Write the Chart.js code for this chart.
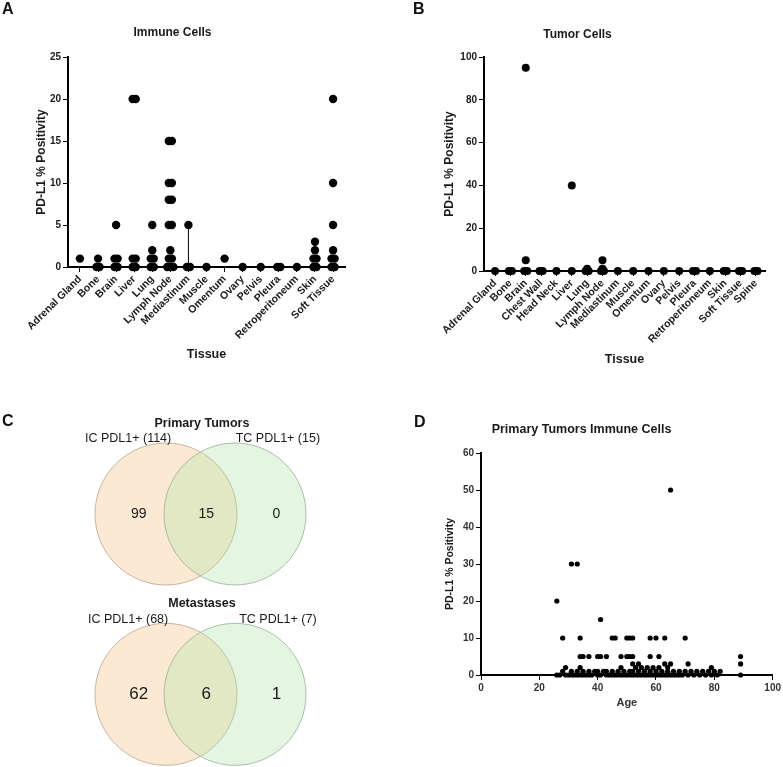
<!DOCTYPE html>
<html>
<head>
<meta charset="utf-8">
<script src="https://cdn.jsdelivr.net/npm/chart.js@4.4.1/dist/chart.umd.min.js"></script>
<style>
  body { margin: 0; background: #fff; }
  #page { position: relative; width: 783px; height: 767px; }
  canvas { position: absolute; }
  .letter { position: absolute; font: bold 16px 'Liberation Sans', Arial, sans-serif; line-height: 16px; color: #111; }
</style>
</head>
<body>
<div id="page">
  <canvas id="chartA" width="390" height="375" style="left:0;top:0"></canvas>
  <canvas id="chartB" width="393" height="375" style="left:390px;top:0"></canvas>
  <canvas id="chartC" width="390" height="387" style="left:0;top:380px"></canvas>
  <canvas id="chartD" width="393" height="387" style="left:390px;top:380px"></canvas>
  <div class="letter" style="left:2px;top:1px">A</div>
  <div class="letter" style="left:413px;top:1px">B</div>
  <div class="letter" style="left:2px;top:413px">C</div>
  <div class="letter" style="left:414px;top:414px">D</div>
</div>
<script>
// Panel A - immune cells, metastatic sites
const tissuesA = ["Adrenal Gland", "Bone", "Brain", "Liver", "Lung", "Lymph Node", "Mediastinum",
    "Muscle", "Omentum", "Ovary", "Pelvis", "Pleura", "Retroperitoneum", "Skin", "Soft Tissue"];
const immuneValues = [
    [1],
    [0, 0, 1],
    [0, 0, 1, 1, 5],
    [0, 0, 1, 1, 20, 20],
    [0, 0, 1, 1, 2, 5],
    [0, 0, 0, 1, 1, 2, 5, 5, 8, 8, 10, 10, 15, 15],
    [0, 0, 5],
    [0],
    [1],
    [0],
    [0],
    [0, 0],
    [0],
    [0, 0, 1, 1, 2, 3],
    [0, 0, 1, 1, 2, 5, 10, 20]
];

// Panel B - tumor cells, metastatic sites
const tissuesB = ["Adrenal Gland", "Bone", "Brain", "Chest Wall", "Head Neck", "Liver", "Lung",
    "Lymph Node", "Mediastinum", "Muscle", "Omentum", "Ovary", "Pelvis", "Pleura",
    "Retroperitoneum", "Skin", "Soft Tissue", "Spine"];
const tumorValues = [
    [0], [0, 0], [0, 0, 5, 95], [0, 0], [0], [0, 40], [0, 0, 1], [0, 0, 1, 5], [0],
    [0], [0], [0], [0], [0, 0], [0], [0, 0], [0, 0], [0, 0]
];

// Panel C - venn counts [IC only, both, TC only] and set totals [IC, TC]
const vennTitles = ["Primary Tumors", "Metastases"];
const primaryCounts = [99, 15, 0];
const primaryTotals = [114, 15];
const metastasisCounts = [62, 6, 1];
const metastasisTotals = [68, 7];

// Panel D - primary tumors immune cells by age
const ageD = [26, 31, 33, 65, 41,
    28, 34, 45, 46, 50, 51, 52, 58, 60, 63, 70,
    34, 35, 37, 40, 41, 43, 48, 50, 51, 52, 58, 61,
    89, 89, 89,
    26, 27, 28, 29, 29, 30, 31, 31, 32, 33, 33, 34, 34, 35, 35, 36, 37, 37, 38, 39,
    40, 40, 41, 42, 43, 43, 44, 45, 45, 46, 47, 47, 48, 48, 49, 49, 50, 51, 51, 52,
    52, 52, 53, 53, 54, 54, 54, 55, 55, 56, 56, 57, 57, 58, 58, 59, 59, 60, 60, 61,
    61, 62, 62, 63, 63, 64, 64, 64, 65, 65, 66, 66, 67, 68, 68, 69, 70, 71, 71, 72,
    73, 74, 75, 76, 77, 78, 79, 79, 80, 81, 82];
const pdl1D = [20, 30, 30, 50, 15,
    10, 10, 10, 10, 10, 10, 10, 10, 10, 10, 10,
    5, 5, 5, 5, 5, 5, 5, 5, 5, 5, 5, 5,
    0, 3, 5,
    0, 0, 1, 2, 0, 0, 1, 0, 0, 1, 0, 2, 0, 1, 0, 0, 1, 0, 0, 1,
    0, 1, 0, 1, 0, 1, 0, 1, 0, 0, 1, 0, 2, 0, 0, 1, 0, 1, 0, 3,
    1, 0, 2, 0, 3, 1, 0, 2, 0, 1, 0, 2, 0, 1, 0, 2, 0, 1, 0, 0,
    2, 1, 0, 3, 0, 2, 1, 0, 0, 3, 1, 0, 0, 1, 0, 0, 1, 3, 0, 1,
    0, 1, 0, 1, 0, 1, 2, 0, 1, 0, 1];

const FONT = "'Liberation Sans', Arial, sans-serif";
const INK = "#1a1a1a";

Chart.defaults.font.family = FONT;
Chart.defaults.color = INK;

// spread equal values sideways like a dot plot
function dotPoints(groups, step) {
    const pts = [];
    groups.forEach((vals, i) => {
        const counts = {};
        vals.forEach(v => counts[v] = (counts[v] || 0) + 1);
        Object.keys(counts).forEach(k => {
            const n = counts[k];
            for (let j = 0; j < n; j++) {
                pts.push({ x: i + (j - (n - 1) / 2) * step, y: +k });
            }
        });
    });
    return pts;
}

function axisStyle(extra) {
    return Object.assign({
        grid: { drawOnChartArea: false, drawTicks: true, tickLength: 5, color: "#000", lineWidth: 1 },
        border: { color: "#000", width: 2 }
    }, extra);
}

function dotPlot(canvasId, cats, groups, opts) {
    const datasets = [{
        data: dotPoints(groups, opts.step),
        backgroundColor: "#000",
        borderWidth: 0,
        pointRadius: opts.radius,
        clip: false
    }];
    if (opts.rangeIndex !== undefined) {
        const vals = groups[opts.rangeIndex];
        datasets.push({
            type: "line",
            data: [{ x: opts.rangeIndex, y: Math.min(...vals) }, { x: opts.rangeIndex, y: Math.max(...vals) }],
            borderColor: "#000",
            borderWidth: 1,
            pointRadius: 0,
            clip: false
        });
    }
    return new Chart(document.getElementById(canvasId), {
        type: "scatter",
        data: { datasets: datasets },
        options: {
            responsive: false,
            animation: false,
            events: [],
            layout: { padding: { left: 0, right: opts.padRight, top: 0, bottom: 0 } },
            plugins: {
                legend: { display: false },
                tooltip: { enabled: false },
                title: {
                    display: true,
                    text: opts.title,
                    font: { size: 12, weight: "bold" },
                    color: INK,
                    padding: opts.titlePad
                }
            },
            scales: {
                x: axisStyle({
                    type: "linear",
                    min: opts.xMin,
                    max: opts.xMax,
                    afterBuildTicks: s => { s.ticks = cats.map((c, i) => ({ value: i })); },
                    afterFit: s => { s.height = opts.xHeight; },
                    ticks: {
                        callback: v => cats[v],
                        autoSkip: false,
                        minRotation: 45,
                        maxRotation: 45,
                        padding: 1,
                        font: { size: 10.5, weight: "bold" },
                        color: INK
                    },
                    title: {
                        display: true,
                        text: "Tissue",
                        font: { size: 12.5, weight: "bold" },
                        color: INK,
                        padding: { top: 0, bottom: opts.xTitlePad }
                    }
                }),
                y: axisStyle({
                    min: 0,
                    max: opts.yMax,
                    afterFit: s => { s.width = opts.yWidth; },
                    ticks: { stepSize: opts.yStep, padding: 2, font: { size: 10, weight: "bold" }, color: INK },
                    title: {
                        display: true,
                        text: "PD-L1 % Positivity",
                        font: { size: 12, weight: "bold" },
                        color: INK,
                        padding: { top: opts.yTitlePad, bottom: 0 }
                    }
                })
            }
        }
    });
}

dotPlot("chartA", tissuesA, immuneValues, {
    title: "Immune Cells", step: 0.17, radius: 4.2, rangeIndex: 6,
    xMin: -0.66, xMax: 14.66, yMax: 25, yStep: 5,
    padRight: 45, yWidth: 68, xHeight: 108,
    titlePad: { top: 25.8, bottom: 16.8 }, xTitlePad: 12.5, yTitlePad: 34
});

dotPlot("chartB", tissuesB, tumorValues, {
    title: "Tumor Cells", step: 0.2, radius: 4,
    xMin: -0.72, xMax: 17.59, yMax: 100, yStep: 20,
    padRight: 18, yWidth: 94, xHeight: 104,
    titlePad: { top: 27.8, bottom: 14.8 }, xTitlePad: 7.5, yTitlePad: 52.8
});

// Panel C - two venn diagrams drawn as circles on hidden scales (1 unit = circle radius)
const vennRows = [
    { y: 0, title: vennTitles[0], counts: primaryCounts, totals: primaryTotals, countSize: 14 },
    { y: -2.54, title: vennTitles[1], counts: metastasisCounts, totals: metastasisTotals, countSize: 17 }
];
const vennOffset = 0.486;

const vennText = {
    id: "vennText",
    afterDatasetsDraw(chart) {
        const { ctx, scales: { x, y } } = chart;
        ctx.save();
        ctx.fillStyle = INK;
        ctx.textAlign = "center";
        ctx.textBaseline = "middle";
        vennRows.forEach(row => {
            const put = (text, dx, dy, font) => {
                ctx.font = font;
                ctx.fillText(text, x.getPixelForValue(dx), y.getPixelForValue(row.y + dy));
            };
            put(row.title, 0.02, 1.28, "bold 12.5px " + FONT);
            put("IC PDL1+ (" + row.totals[0] + ")", -1.02, 1.06, "12.5px " + FONT);
            put("TC PDL1+ (" + row.totals[1] + ")", 1.09, 1.06, "12.5px " + FONT);
            put(String(row.counts[0]), -0.87, 0, row.countSize + "px " + FONT);
            put(String(row.counts[1]), 0.08, 0, row.countSize + "px " + FONT);
            put(String(row.counts[2]), 1.07, 0, row.countSize + "px " + FONT);
        });
        ctx.restore();
    }
};

const unitRadius = c => {
    const sx = c.chart.scales.x;
    return sx.getPixelForValue(1) - sx.getPixelForValue(0);
};

new Chart(document.getElementById("chartC"), {
    type: "scatter",
    data: {
        datasets: [
            {
                label: "TC PDL1+",
                data: vennRows.map(r => ({ x: vennOffset, y: r.y })),
                backgroundColor: "rgba(172, 226, 166, 0.32)",
                borderColor: "rgba(150, 170, 148, 0.75)",
                borderWidth: 1,
                pointRadius: unitRadius,
                clip: false
            },
            {
                label: "IC PDL1+",
                data: vennRows.map(r => ({ x: -vennOffset, y: r.y })),
                backgroundColor: "rgba(249, 203, 150, 0.42)",
                borderColor: "rgba(180, 160, 140, 0.75)",
                borderWidth: 1,
                pointRadius: unitRadius,
                clip: false
            }
        ]
    },
    options: {
        responsive: false,
        animation: false,
        events: [],
        layout: { padding: 0 },
        plugins: { legend: { display: false }, tooltip: { enabled: false } },
        scales: {
            x: { display: false, min: -2.824, max: 2.669 },
            y: { display: false, min: -3.563, max: 1.887 }
        }
    },
    plugins: [vennText]
});

// Panel D
new Chart(document.getElementById("chartD"), {
    type: "scatter",
    data: {
        datasets: [{
            data: ageD.map((a, i) => ({ x: a, y: pdl1D[i] })),
            backgroundColor: "#000",
            borderWidth: 0,
            pointRadius: 2.6,
            clip: false
        }]
    },
    options: {
        responsive: false,
        animation: false,
        events: [],
        layout: { padding: { left: 0, right: 10, top: 0, bottom: 0 } },
        plugins: {
            legend: { display: false },
            tooltip: { enabled: false },
            title: {
                display: true,
                text: "Primary Tumors Immune Cells",
                font: { size: 12.5, weight: "bold" },
                color: INK,
                padding: { top: 42.5, bottom: 15.5 }
            }
        },
        scales: {
            x: axisStyle({
                type: "linear",
                min: 0,
                max: 100,
                afterFit: s => { s.height = 92; },
                ticks: { stepSize: 20, padding: 2, font: { size: 10, weight: "bold" }, color: "#333" },
                title: {
                    display: true,
                    text: "Age",
                    font: { size: 11, weight: "bold" },
                    color: "#333",
                    padding: { top: 0, bottom: 57.4 }
                }
            }),
            y: axisStyle({
                min: 0,
                max: 60,
                afterFit: s => { s.width = 91; },
                ticks: { stepSize: 10, padding: 2, font: { size: 10, weight: "bold" }, color: "#333" },
                title: {
                    display: true,
                    text: "PD-L1 % Positivity",
                    font: { size: 10.5, weight: "bold" },
                    color: INK,
                    padding: { top: 53.7, bottom: 0 }
                }
            })
        }
    }
});
</script>
</body>
</html>
